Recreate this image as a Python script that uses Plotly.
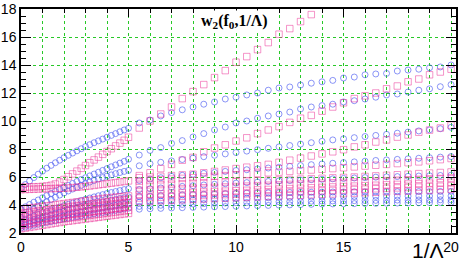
import plotly.graph_objects as go

# sample positions
x_left = [round(i * 0.2, 2) for i in range(26)]          # 0 .. 5
x_right = [round(5.5 + i * 0.5, 2) for i in range(30)]   # 5.5 .. 20

# blue (circles), x in [0,5]
blue_l1 = [5.20,5.46,5.72,5.96,6.20,6.42,6.63,6.83,7.02,7.20,7.38,7.55,7.71,7.87,8.02,8.17,8.31,8.45,8.58,8.71,8.84,8.97,9.10,9.23,9.36,9.48]
blue_l2 = [3.70,3.87,4.04,4.20,4.36,4.52,4.67,4.82,4.97,5.12,5.26,5.40,5.54,5.68,5.82,5.95,6.08,6.21,6.34,6.47,6.60,6.73,6.86,6.99,7.12,7.27]
blue_l3 = [3.10,3.30,3.50,3.69,3.87,4.05,4.22,4.39,4.55,4.71,4.86,5.00,5.14,5.27,5.40,5.52,5.64,5.75,5.86,5.96,6.06,6.15,6.24,6.32,6.40,6.47]
blue_l4 = [2.85,2.97,3.09,3.21,3.32,3.43,3.54,3.65,3.75,3.85,3.95,4.05,4.14,4.23,4.32,4.41,4.50,4.58,4.66,4.74,4.82,4.89,4.96,5.03,5.10,5.16]
blue_l5 = [2.65,2.75,2.85,2.95,3.04,3.13,3.22,3.31,3.40,3.48,3.56,3.64,3.72,3.80,3.87,3.94,4.01,4.08,4.15,4.22,4.28,4.34,4.40,4.46,4.52,4.58]
blue_l6 = [2.50,2.58,2.66,2.74,2.82,2.90,2.97,3.04,3.11,3.18,3.25,3.32,3.38,3.44,3.50,3.56,3.62,3.68,3.74,3.80,3.85,3.90,3.95,4.00,4.05,4.10]
blue_l7 = [2.35,2.42,2.49,2.56,2.63,2.70,2.76,2.82,2.88,2.94,3.00,3.06,3.12,3.17,3.22,3.27,3.32,3.37,3.42,3.47,3.52,3.57,3.62,3.67,3.72,3.77]

# pink (squares), x in [0,5]
pink_l1 = [5.28,5.28,5.29,5.30,5.31,5.33,5.36,5.41,5.50,5.64,5.82,6.02,6.22,6.42,6.62,6.82,7.02,7.22,7.42,7.62,7.82,8.02,8.22,8.42,8.62,8.84]
pink_l2 = [5.10,5.11,5.12,5.13,5.14,5.15,5.16,5.17,5.18,5.19,5.20,5.22,5.24,5.27,5.30,5.33,5.36,5.40,5.44,5.48,5.52,5.56,5.60,5.64,5.68,5.72]
pink_l3 = [3.70,3.74,3.78,3.82,3.86,3.90,3.94,3.98,4.02,4.06,4.10,4.14,4.18,4.22,4.26,4.30,4.34,4.38,4.42,4.46,4.50,4.53,4.56,4.59,4.62,4.65]
pink_l4 = [3.40,3.44,3.49,3.53,3.57,3.61,3.65,3.70,3.74,3.78,3.82,3.86,3.90,3.94,3.98,4.02,4.06,4.10,4.14,4.18,4.22,4.26,4.30,4.34,4.38,4.42]
pink_l5 = [3.10,3.15,3.19,3.24,3.28,3.33,3.37,3.42,3.46,3.50,3.55,3.59,3.63,3.67,3.71,3.75,3.79,3.83,3.87,3.91,3.95,3.99,4.03,4.07,4.11,4.15]
pink_l6 = [2.80,2.85,2.90,2.95,3.00,3.05,3.10,3.15,3.20,3.24,3.28,3.32,3.36,3.40,3.44,3.48,3.52,3.56,3.60,3.64,3.68,3.72,3.76,3.80,3.84,3.88]
pink_l7 = [2.55,2.60,2.65,2.70,2.75,2.80,2.85,2.90,2.94,2.98,3.02,3.06,3.10,3.14,3.18,3.22,3.26,3.30,3.34,3.38,3.42,3.46,3.50,3.54,3.58,3.62]
pink_l8 = [2.30,2.35,2.40,2.45,2.50,2.55,2.60,2.65,2.70,2.75,2.80,2.84,2.88,2.92,2.96,3.00,3.04,3.08,3.12,3.16,3.20,3.24,3.28,3.32,3.36,3.40]

# blue (circles), x in [5.5,20]
blue_r1 = [9.86,10.07,10.36,10.60,10.80,11.00,11.20,11.36,11.57,11.70,11.86,12.00,12.20,12.36,12.43,12.57,12.70,12.80,12.90,13.07,13.14,13.30,13.36,13.40,13.57,13.64,13.70,13.80,13.86,14.00]
blue_r2 = [7.57,7.90,8.10,8.40,8.60,8.86,9.10,9.36,9.57,9.86,10.00,10.20,10.36,10.50,10.64,10.86,11.00,11.10,11.20,11.36,11.45,11.57,11.70,11.86,11.93,12.07,12.20,12.30,12.45,12.60]
blue_r3 = [6.80,6.95,7.05,7.15,7.25,7.35,7.45,7.55,7.65,7.75,7.85,7.95,8.05,8.15,8.25,8.35,8.45,8.55,8.65,8.73,8.81,8.89,8.97,9.05,9.13,9.21,9.29,9.37,9.45,9.55]
blue_r4 = [5.75,5.85,5.95,6.05,6.12,6.19,6.26,6.33,6.40,6.46,6.52,6.58,6.64,6.70,6.76,6.82,6.88,6.93,6.98,7.03,7.08,7.13,7.18,7.22,7.26,7.30,7.34,7.38,7.42,7.46]
blue_r5 = [5.10,5.16,5.22,5.28,5.33,5.38,5.43,5.48,5.52,5.56,5.60,5.64,5.68,5.72,5.75,5.78,5.81,5.84,5.87,5.90,5.93,5.96,5.99,6.01,6.03,6.05,6.07,6.09,6.11,6.13]
blue_r6 = [4.60,4.63,4.66,4.69,4.72,4.75,4.77,4.79,4.81,4.83,4.85,4.86,4.87,4.88,4.89,4.90,4.91,4.92,4.93,4.93,4.94,4.94,4.95,4.95,4.95,4.96,4.96,4.96,4.97,4.97]
blue_r7 = [4.20,4.24,4.28,4.31,4.34,4.37,4.40,4.42,4.44,4.46,4.48,4.50,4.52,4.53,4.54,4.55,4.56,4.57,4.58,4.59,4.60,4.61,4.62,4.62,4.63,4.63,4.64,4.64,4.65,4.65]
blue_r8 = [3.90,3.94,3.98,4.01,4.04,4.07,4.10,4.12,4.14,4.16,4.18,4.20,4.22,4.23,4.24,4.25,4.27,4.28,4.29,4.30,4.31,4.32,4.33,4.34,4.35,4.35,4.36,4.36,4.37,4.37]
blue_r9 = [3.70,3.73,3.76,3.79,3.81,3.83,3.85,3.87,3.89,3.91,3.93,3.95,3.97,3.99,4.01,4.03,4.05,4.07,4.08,4.09,4.10,4.11,4.12,4.13,4.14,4.15,4.16,4.17,4.18,4.19]

# pink (squares), x in [5.5,20]
pink_r1 = [9.50,10.00,10.50,11.00,11.60,12.10,12.60,13.10,13.60,14.20,14.60,15.10,15.60,16.20,16.60,17.10,17.60]
pink_r2 = [6.10,6.30,6.60,6.90,7.20,7.40,7.80,8.07,8.30,8.57,8.80,9.10,9.36,9.60,9.90,10.20,10.40,10.70,11.00,11.30,11.60,11.80,12.00,12.30,12.50,12.80,13.00,13.30,13.50,13.70]
pink_r3 = [5.95,6.00,6.05,6.10,6.15,6.20,6.30,6.40,6.50,6.60,6.70,6.80,6.90,7.05,7.20,7.35,7.50,7.65,7.80,7.95,8.15,8.30,8.50,8.65,8.85,9.00,9.20,9.35,9.50,9.70]
pink_r4 = [5.70,5.75,5.80,5.85,5.90,5.95,6.00,6.05,6.10,6.15,6.20,6.25,6.30,6.35,6.40,6.45,6.50,6.55,6.60,6.66,6.72,6.78,6.84,6.90,6.96,7.02,7.08,7.16,7.24,7.32]
pink_r5 = [5.40,5.43,5.46,5.49,5.52,5.55,5.58,5.61,5.64,5.67,5.70,5.73,5.76,5.79,5.82,5.85,5.88,5.91,5.94,5.97,6.00,6.04,6.08,6.12,6.16,6.20,6.24,6.28,6.32,6.36]
pink_r6 = [5.05,5.08,5.11,5.14,5.17,5.20,5.23,5.26,5.29,5.32,5.35,5.38,5.41,5.44,5.47,5.50,5.53,5.56,5.59,5.62,5.65,5.68,5.71,5.74,5.77,5.80,5.83,5.86,5.89,5.92]
pink_r7 = [4.75,4.78,4.81,4.84,4.87,4.90,4.93,4.96,4.99,5.02,5.05,5.08,5.11,5.14,5.17,5.20,5.23,5.26,5.29,5.32,5.35,5.38,5.41,5.44,5.47,5.50,5.53,5.56,5.59,5.62]
pink_r8 = [4.50,4.53,4.56,4.59,4.62,4.65,4.68,4.71,4.74,4.77,4.80,4.83,4.86,4.89,4.92,4.95,4.98,5.01,5.04,5.07,5.10,5.13,5.16,5.19,5.22,5.25,5.28,5.31,5.34,5.37]
pink_r9 = [4.25,4.28,4.31,4.34,4.37,4.40,4.43,4.46,4.49,4.52,4.55,4.58,4.61,4.64,4.67,4.70,4.73,4.76,4.79,4.82,4.85,4.88,4.91,4.94,4.97,5.00,5.03,5.06,5.09,5.12]

x_ticks = [0, 5, 10, 15, 20]
y_ticks = [2, 4, 6, 8, 10, 12, 14, 16, 18]

BLUE = "rgba(70,85,240,0.62)"
PINK = "rgba(236,45,150,0.50)"
GREEN = "rgb(40,200,40)"

fig = go.Figure()

blue_left = [blue_l1, blue_l2, blue_l3, blue_l4, blue_l5, blue_l6, blue_l7]
blue_right = [blue_r1, blue_r2, blue_r3, blue_r4, blue_r5, blue_r6, blue_r7, blue_r8, blue_r9]
pink_left = [pink_l1, pink_l2, pink_l3, pink_l4, pink_l5, pink_l6, pink_l7, pink_l8]
pink_right = [pink_r1, pink_r2, pink_r3, pink_r4, pink_r5, pink_r6, pink_r7, pink_r8, pink_r9]

def add(xs, ys, symbol, color, size):
    fig.add_trace(go.Scatter(
        x=xs[:len(ys)], y=ys, mode="markers", showlegend=False, hoverinfo="skip",
        marker=dict(symbol=symbol, size=size, color=color,
                    line=dict(color=color, width=1))))

for ys in blue_left:
    add(x_left, ys, "circle-open", BLUE, 6)
for ys in blue_right:
    add(x_right, ys, "circle-open", BLUE, 6)
for ys in pink_left:
    add(x_left, ys, "square-open", PINK, 6.5)
for ys in pink_right:
    add(x_right, ys, "square-open", PINK, 6.5)

axis_font = dict(family="Liberation Sans, Arial, sans-serif", size=14, color="black")

fig.update_layout(
    width=471, height=265,
    margin=dict(l=21, r=15, t=9, b=32),
    paper_bgcolor="white", plot_bgcolor="white",
    xaxis=dict(
        range=[0, 20.23], tickvals=x_ticks, ticktext=[str(v) for v in x_ticks],
        ticks="inside", ticklen=8, tickwidth=1.2, tickcolor="black",
        showline=True, linecolor="black", linewidth=1.5, mirror="allticks",
        showgrid=True, gridcolor=GREEN, gridwidth=1, griddash="dot",
        zeroline=False, tickfont=axis_font, automargin=False,
        minor=dict(dtick=1, tick0=0, ticks="inside", ticklen=4, tickcolor="black",
                   showgrid=True, gridcolor=GREEN, gridwidth=1, griddash="dot"),
    ),
    yaxis=dict(
        range=[2, 18], tickvals=y_ticks, ticktext=[str(v) for v in y_ticks],
        ticks="inside", ticklen=10, tickwidth=1.2, tickcolor="black",
        showline=True, linecolor="black", linewidth=1.5, mirror="allticks",
        showgrid=True, gridcolor=GREEN, gridwidth=1, griddash="dot",
        zeroline=False, tickfont=axis_font, automargin=False,
        minor=dict(dtick=0.5, tick0=0, ticks="inside", ticklen=5, tickcolor="black",
                   showgrid=False),
    ),
    annotations=[
        dict(text="<b>w<sub>2</sub>(f<sub>0</sub>,1/Λ)</b>", xref="paper", yref="paper",
             x=0.49, y=0.945, xanchor="center", yanchor="middle", showarrow=False,
             bgcolor="white",
             font=dict(family="Liberation Serif, Times New Roman, serif", size=16, color="black")),
        dict(text="1/Λ", xref="paper", yref="paper", x=0.978, y=-0.08,
             xanchor="right", yanchor="middle", showarrow=False,
             font=dict(family="Liberation Sans, Arial, sans-serif", size=21, color="black")),
    ],
)

fig.write_html("out.html", config={"displayModeBar": False},
               post_script="document.body.style.margin='0px';document.body.style.overflow='hidden';")
